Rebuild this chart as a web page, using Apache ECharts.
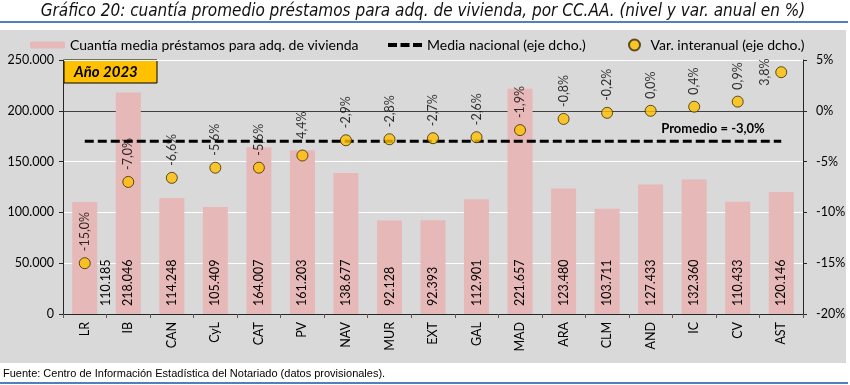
<!DOCTYPE html>
<html><head><meta charset="utf-8">
<script src="https://cdn.jsdelivr.net/npm/echarts@6/dist/echarts.min.js"></script>
<style>html,body{margin:0;padding:0;background:#fff}#c{width:850px;height:385px}</style>
</head><body><div id="c"></div>
<script>
const categories = ['LR','IB','CAN','CyL','CAT','PV','NAV','MUR','EXT','GAL','MAD','ARA','CLM','AND','IC','CV','AST'];
const cuantia = [110185,218046,114248,105409,164007,161203,138677,92128,92393,112901,221657,123480,103711,127433,132360,110433,120146];
const variacion = [-15.0,-7.0,-6.6,-5.6,-5.6,-4.4,-2.9,-2.8,-2.7,-2.6,-1.9,-0.8,-0.2,0.0,0.4,0.9,3.8];
const mediaNacional = [-3.0,-3.0,-3.0,-3.0,-3.0,-3.0,-3.0,-3.0,-3.0,-3.0,-3.0,-3.0,-3.0,-3.0,-3.0,-3.0,-3.0];
const leftTickLabels = ['0','50.000','100.000','150.000','200.000','250.000'];
const rightTickLabels = ['-20%','-15%','-10%','-5%','0%','5%'];
const seriesNames = ['Cuantía media préstamos para adq. de vivienda','Media nacional (eje dcho.)','Var. interanual (eje dcho.)'];
const titleText = 'Gráfico 20: cuantía promedio préstamos para adq. de vivienda, por CC.AA. (nivel y var. anual en %)';
const sourceText = 'Fuente: Centro de Información Estadística del Notariado (datos provisionales).';
const yearText = 'Año 2023';
const promedioText = 'Promedio = -3,0%';

const F = 'Lato';
const fmtThousands = v => String(Math.round(v)).replace(/\B(?=(\d{3})+(?!\d))/g, '.');
const fmtPct = v => v.toFixed(1).replace('.', ',') + '%';

const chart = echarts.init(document.getElementById('c'), null, {renderer: 'canvas'});
const legendText = {fontFamily: F, fontSize: 14, color: '#000'};
const dashIcon = 'path://M0,0 L9,0 L9,4 L0,4 Z M12.5,0 L21.5,0 L21.5,4 L12.5,4 Z M25,0 L34,0 L34,4 L25,4 Z';
chart.setOption({
  animation: false,
  backgroundColor: '#fff',
  graphic: [
    {type: 'rect', z: -10, shape: {x: 0, y: 30, width: 846, height: 333}, style: {fill: '#d9d9d9'}},
    {type: 'rect', z: -10, shape: {x: 0, y: 21, width: 848, height: 2}, style: {fill: '#4f81bd'}},
    {type: 'rect', z: -10, shape: {x: 0, y: 382, width: 848, height: 2}, style: {fill: '#4f81bd'}},
    {type: 'text', x: 423, y: 12, style: {text: titleText, fill: '#111', align: 'center', verticalAlign: 'middle',
      font: 'italic 17px "Liberation Sans Narrow", "DejaVu Sans Condensed", sans-serif'}},
    {type: 'text', x: 3, y: 374, style: {text: sourceText, fill: '#000', align: 'left', verticalAlign: 'middle',
      font: '11px "Liberation Sans", Arial, sans-serif'}},
    {type: 'group', x: 64, y: 60, z: 100, children: [
      {type: 'rect', shape: {x: 0, y: 0, width: 93, height: 23}, style: {fill: '#ffc000', stroke: '#000', lineWidth: 1}},
      {type: 'text', x: 10, y: 12, style: {text: yearText, fill: '#000', align: 'left', verticalAlign: 'middle',
        font: 'italic bold 15px Lato, sans-serif'}}
    ]},
    {type: 'text', x: 713, y: 129, z: 100, style: {text: promedioText, fill: '#000', align: 'center', verticalAlign: 'middle',
      font: 'bold 13px Lato, sans-serif'}}
  ],
  legend: [
    {data: [seriesNames[0]], left: 25, top: 33, itemWidth: 35, itemHeight: 7, textStyle: legendText},
    {data: [{name: seriesNames[1], icon: dashIcon}], left: 383, top: 33, itemWidth: 34, itemHeight: 4, textStyle: legendText},
    {data: [seriesNames[2]], left: 623, top: 33, itemWidth: 22, itemHeight: 11, textStyle: legendText}
  ],
  grid: {left: 63, right: 47, top: 60, bottom: 71, containLabel: false},
  xAxis: {
    type: 'category', data: categories, boundaryGap: true,
    axisLine: {lineStyle: {color: '#262626', width: 1}},
    axisTick: {show: true, length: 4, lineStyle: {color: '#595959'}},
    axisLabel: {rotate: 90, margin: 8, fontFamily: F, fontSize: 12.5, color: '#000'}
  },
  yAxis: [
    {type: 'value', min: 0, max: 250000, interval: 50000, position: 'left',
      axisLine: {show: true, lineStyle: {color: '#262626'}},
      axisTick: {show: true, length: 4, lineStyle: {color: '#262626'}},
      axisLabel: {margin: 9, fontFamily: F, fontSize: 12.5, color: '#000', formatter: (v, i) => leftTickLabels[i]},
      splitLine: {show: true, lineStyle: {color: ['#ffffff','#ffffff','#ffffff','#ffffff','#404040','#ffffff'], width: 1}}
    },
    {type: 'value', min: -20, max: 5, interval: 5, position: 'right',
      axisLine: {show: true, lineStyle: {color: '#262626'}},
      axisTick: {show: true, length: 4, lineStyle: {color: '#262626'}},
      axisLabel: {margin: 13, fontFamily: F, fontSize: 12.5, color: '#000', formatter: (v, i) => rightTickLabels[i]},
      splitLine: {show: false}
    }
  ],
  series: [
    {name: seriesNames[0], type: 'bar', yAxisIndex: 0, z: 2, barWidth: 25,
      itemStyle: {color: '#e6b8b7'},
      data: cuantia.map((v, i) => i === 0 ? {value: v, label: {offset: [0, 21]}} : v),
      label: {show: true, position: 'insideBottom', rotate: 90, align: 'left', verticalAlign: 'middle', distance: 8,
        fontFamily: F, fontSize: 12.5, color: '#000', formatter: p => fmtThousands(p.value)}
    },
    {name: seriesNames[1], type: 'line', yAxisIndex: 1, z: 3, data: mediaNacional, symbol: 'none',
      itemStyle: {color: '#000'},
      lineStyle: {color: '#000', width: 3, type: [9, 4]}
    },
    {name: seriesNames[2], type: 'scatter', yAxisIndex: 1, z: 4, symbol: 'circle', symbolSize: 11,
      itemStyle: {color: '#ffc000', borderColor: '#3a2a00', borderWidth: 1},
      data: variacion.map((v, i) => i === variacion.length - 1
        ? {value: v, label: {position: 'left', align: 'center', verticalAlign: 'bottom', distance: 4}} : v),
      label: {show: true, position: 'top', rotate: 90, align: 'left', verticalAlign: 'middle', distance: 6,
        fontFamily: F, fontSize: 12.5, color: '#000', formatter: p => fmtPct(p.value)}
    }
  ]
});
</script></body></html>
